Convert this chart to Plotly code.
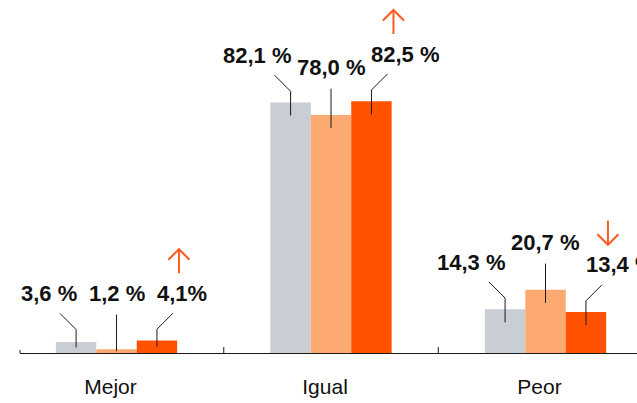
import plotly.graph_objects as go

# ---- data ----
categories = ["Mejor", "Igual", "Peor"]
series_names = ["Serie A", "Serie B", "Serie C"]
values_gray = [3.6, 82.1, 14.3]
values_light = [1.2, 78.0, 20.7]
values_orange = [4.1, 82.5, 13.4]
labels_gray = ["3,6 %", "82,1 %", "14,3 %"]
labels_light = ["1,2 %", "78,0 %", "20,7 %"]
labels_orange = ["4,1%", "82,5 %", "13,4 %"]
trend_orange = ["up", "up", "down"]

# ---- style / layout ----
COLORS = ["#c9cdd4", "#fda972", "#ff5200"]
ARROW_COLOR = "#ff5a1f"
LINE_COLOR = "#1a1a1a"
FONT = "Liberation Sans, Arial, Helvetica, sans-serif"

W, H = 637, 403
M_L, M_R, M_T, M_B = 20, 0, 0, 50
PLOT_W = W - M_L - M_R
PLOT_H = H - M_T - M_B
X_RANGE = [-0.45, -0.45 + PLOT_W / 214.5]
Y_RANGE = [0, 115.7]
PX_X = PLOT_W / (X_RANGE[1] - X_RANGE[0])
PX_Y = PLOT_H / (Y_RANGE[1] - Y_RANGE[0])
BARGAP = 0.4345
BAR_W = (1 - BARGAP) / 3

xs = list(range(len(categories)))
series = [values_gray, values_light, values_orange]
labels = [labels_gray, labels_light, labels_orange]

fig = go.Figure()
for name, vals, col in zip(series_names, series, COLORS):
    fig.add_bar(x=xs, y=vals, name=name, marker=dict(color=col, line=dict(width=0)),
                hoverinfo="skip")

# leader lines + value labels
lx, ly_pts = [], []
annotations = []
for si, (vals, labs) in enumerate(zip(series, labels)):
    for ci, (v, lab) in enumerate(zip(vals, labs)):
        bx = ci + (si - 1) * BAR_W
        ly = max(v, 4.0) + 15.5
        bottom = v - min(13 / PX_Y, v / 2)
        if si == 1:
            lx += [bx, bx, None]
            ly_pts += [bottom, ly - 21 / PX_Y, None]
            annotations.append(dict(x=bx, y=ly, text=lab, xanchor="center"))
        else:
            sgn = -1 if si == 0 else 1
            lx += [bx, bx, bx + sgn * 16 / PX_X, None]
            ly_pts += [bottom, ly - 36 / PX_Y, ly - 20 / PX_Y, None]
            annotations.append(dict(x=bx + (1 / PX_X) * (3 if si == 0 else -2), y=ly, text=lab,
                                    xanchor="right" if si == 0 else "left"))
fig.add_scatter(x=lx, y=ly_pts, mode="lines", line=dict(color=LINE_COLOR, width=1),
                hoverinfo="skip", showlegend=False, cliponaxis=False)

# trend arrows for third series
ax_, ay_ = [], []
for ci, (v, tr) in enumerate(zip(values_orange, trend_orange)):
    bx = ci + BAR_W + 22 / PX_X
    cy = max(v, 4.0) + 15.5 + 32 / PX_Y
    s = 1 if tr == "up" else -1
    tip = cy + s * 12 / PX_Y
    tail = cy - s * 12 / PX_Y
    ax_ += [bx, bx, None, bx - 10.5 / PX_X, bx, bx + 10.5 / PX_X, None]
    ay_ += [tail, tip, None, tip - s * 10.5 / PX_Y, tip, tip - s * 10.5 / PX_Y, None]
fig.add_scatter(x=ax_, y=ay_, mode="lines", line=dict(color=ARROW_COLOR, width=2),
                hoverinfo="skip", showlegend=False, cliponaxis=False)

for a in annotations:
    a.update(xref="x", yref="y", yanchor="middle", showarrow=False,
             font=dict(family=FONT, size=22, color="#111111", weight="bold"))

# axis tick marks at group boundaries
shapes = [dict(type="line", xref="paper", yref="y", x0=0, x1=0, ysizemode="pixel",
               yanchor=0, y0=-3, y1=3, line=dict(color=LINE_COLOR, width=1))]
for b in [i + 0.5 for i in xs[:-1]]:
    shapes.append(dict(type="line", xref="x", yref="y", x0=b, x1=b, ysizemode="pixel",
                       yanchor=0, y0=-8, y1=6, line=dict(color=LINE_COLOR, width=1)))

fig.update_layout(
    width=W, height=H,
    margin=dict(l=M_L, r=M_R, t=M_T, b=M_B),
    paper_bgcolor="white", plot_bgcolor="white",
    barmode="group", bargap=BARGAP, bargroupgap=0,
    showlegend=False,
    annotations=annotations,
    shapes=shapes,
    xaxis=dict(type="linear", range=X_RANGE, tickvals=xs, ticktext=categories,
               showgrid=False, zeroline=False, showline=True, linecolor=LINE_COLOR,
               linewidth=1, ticks="", ticklabelshift=-6, ticklabelstandoff=15,
               tickfont=dict(family=FONT, size=21, color="#111111"), fixedrange=True),
    yaxis=dict(range=Y_RANGE, visible=False, fixedrange=True),
)

fig.write_html("out.html", config={"displayModeBar": False})
